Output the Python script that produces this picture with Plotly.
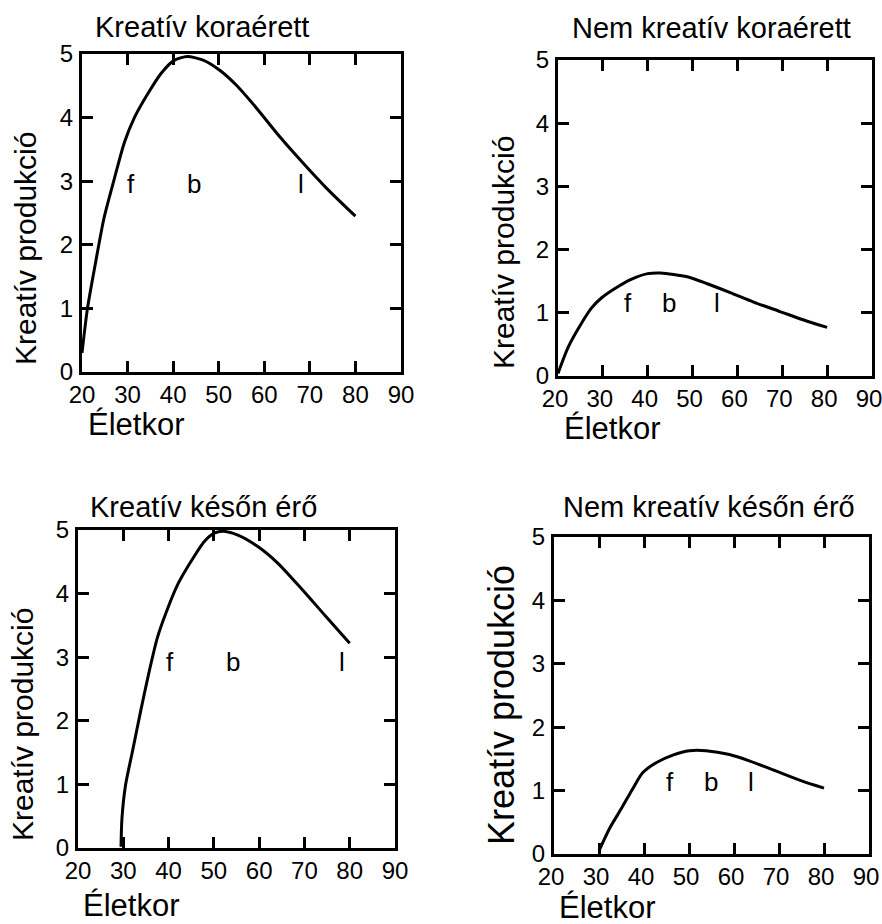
import plotly.graph_objects as go

W, H = 882, 924
FONT = "Liberation Sans, Arial, sans-serif"

titles = ["Kreatív koraérett", "Nem kreatív koraérett", "Kreatív későn érő", "Nem kreatív későn érő"]
x_label = "Életkor"
y_label = "Kreatív produkció"
x_ticks = [20, 30, 40, 50, 60, 70, 80, 90]
y_ticks = [0, 1, 2, 3, 4, 5]

# Panel 1: Kreatív koraérett
age1 = [20, 21.2, 23.0, 24.8, 27.1, 29.3, 31.5, 34.4, 37.3, 40.2, 43.1, 46.7, 50.3, 54.0, 58.4, 63.5, 68.7, 73.8, 80.0]
val1 = [0.3, 1.0, 1.73, 2.41, 3.04, 3.61, 4.0, 4.37, 4.69, 4.90, 4.96, 4.90, 4.74, 4.50, 4.14, 3.69, 3.27, 2.88, 2.45]
# Panel 2: Nem kreatív koraérett
age2 = [20, 22.3, 25.2, 27.4, 29.6, 32.6, 36.3, 40.0, 42.9, 48.8, 53.3, 58.4, 63.6, 69.5, 75.4, 80.0]
val2 = [0.04, 0.46, 0.83, 1.07, 1.23, 1.38, 1.53, 1.62, 1.63, 1.57, 1.46, 1.32, 1.17, 1.02, 0.87, 0.77]
# Panel 3: Kreatív későn érő
age3 = [29.5, 29.7, 30.5, 32.0, 33.8, 35.7, 37.5, 39.4, 42.0, 44.9, 47.9, 50.1, 51.9, 55.3, 59.7, 64.1, 69.3, 74.5, 80.0]
val3 = [0.02, 0.46, 0.99, 1.51, 2.14, 2.77, 3.30, 3.69, 4.14, 4.50, 4.82, 4.95, 4.98, 4.92, 4.74, 4.48, 4.08, 3.66, 3.22]
# Panel 4: Nem kreatív későn érő
age4 = [30.0, 32.4, 35.0, 37.5, 39.7, 42.7, 46.4, 50.1, 53.8, 59.0, 63.4, 69.3, 75.2, 80.0]
val4 = [0.05, 0.41, 0.72, 1.03, 1.28, 1.44, 1.56, 1.63, 1.63, 1.57, 1.47, 1.31, 1.15, 1.04]

letters = ["f", "b", "l"]
letter_age = [[30.7, 44.5, 68.0], [35.7, 44.8, 55.5], [40.3, 54.3, 78.2], [45.8, 54.9, 63.8]]
letter_val = [2.95, 1.16, 2.92, 1.13]

ages = [age1, age2, age3, age4]
vals = [val1, val2, val3, val4]

# plot-area boxes in window pixels: left, right, top, bottom
boxes = [(82, 401, 54, 372), (558, 872, 60, 376), (78, 395, 530, 848), (554, 869, 537, 854)]
xtick_shift = [0, -3, 0, -3]
title_pos = [(202, 27), (711, 28), (203, 507), (709, 507)]
xlab_pos = [(136, 425), (612, 428), (131, 905), (607, 907)]
ylab_pos = [(26, 249, 30), (503, 253, 30), (22, 725, 30), (501, 705, 36)]


def px(x):
    return x / W


def py(y):
    return 1 - y / H


fig = go.Figure()
annotations = []
layout = {}
for i in range(4):
    n = "" if i == 0 else str(i + 1)
    l, r, t, b = boxes[i]
    fig.add_trace(go.Scatter(
        x=ages[i], y=vals[i], mode="lines",
        line=dict(color="black", width=3, shape="spline", smoothing=0.7),
        xaxis="x" + n, yaxis="y" + n, showlegend=False, hoverinfo="skip",
    ))
    common = dict(
        showline=True, linecolor="black", linewidth=3, mirror="ticks",
        ticks="inside", ticklen=11, tickwidth=3, tickcolor="black",
        showgrid=False, zeroline=False, fixedrange=True, automargin=False,
        ticklabeloverflow="allow",
        tickfont=dict(family=FONT, size=24, color="black"),
    )
    layout["xaxis" + n] = dict(
        common, domain=[px(l), px(r)], range=[20, 90], anchor="y" + n,
        tickvals=x_ticks, ticktext=[str(v) for v in x_ticks],
        ticklabelstandoff=-1, ticklabelshift=xtick_shift[i],
    )
    layout["yaxis" + n] = dict(
        common, domain=[py(b), py(t)], range=[0, 5], anchor="x" + n,
        tickvals=y_ticks, ticktext=[str(v) for v in y_ticks],
        ticklabelstandoff=1,
    )
    for k, letter in enumerate(letters):
        annotations.append(dict(
            x=letter_age[i][k], y=letter_val[i], xref="x" + n, yref="y" + n,
            text=letter, showarrow=False, xanchor="center", yanchor="middle",
            font=dict(family=FONT, size=26, color="black"),
        ))
    tx, ty = title_pos[i]
    annotations.append(dict(
        x=px(tx), y=py(ty), xref="paper", yref="paper", text=titles[i],
        showarrow=False, xanchor="center", yanchor="middle",
        font=dict(family=FONT, size=29, color="black"),
    ))
    xx, xy = xlab_pos[i]
    annotations.append(dict(
        x=px(xx), y=py(xy), xref="paper", yref="paper", text=x_label,
        showarrow=False, xanchor="center", yanchor="middle",
        font=dict(family=FONT, size=31, color="black"),
    ))
    yx, yy, ys = ylab_pos[i]
    annotations.append(dict(
        x=px(yx), y=py(yy), xref="paper", yref="paper", text=y_label,
        showarrow=False, xanchor="center", yanchor="middle", textangle=-90,
        font=dict(family=FONT, size=ys, color="black"),
    ))

fig.update_layout(
    width=W, height=H, margin=dict(l=0, r=0, t=0, b=0),
    paper_bgcolor="white", plot_bgcolor="white",
    annotations=annotations, **layout,
)
# remove the browser's default 8px page margin so the figure fills the window
fig.write_html(
    "out.html",
    config={"displayModeBar": False},
    post_script="document.body.style.margin='0';document.body.style.overflow='hidden';",
)
